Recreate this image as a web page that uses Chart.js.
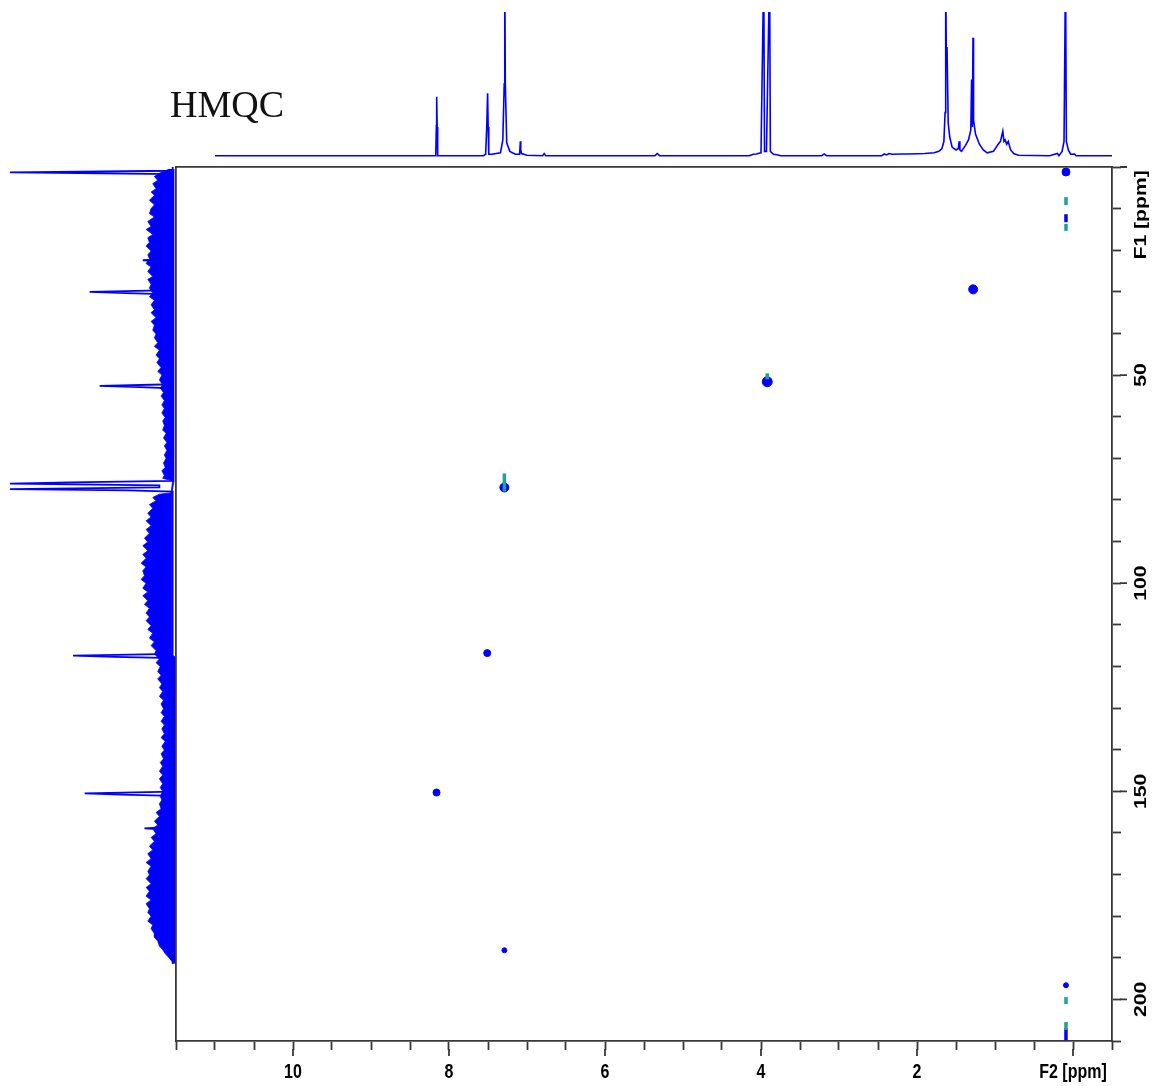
<!DOCTYPE html>
<html>
<head>
<meta charset="utf-8">
<script src="https://cdn.jsdelivr.net/npm/chart.js@4.4.1/dist/chart.umd.min.js"></script>
<style>
  html, body { margin: 0; padding: 0; background: #fff; }
  #wrap { position: relative; width: 1159px; height: 1086px; overflow: hidden; }
  canvas { position: absolute; }
</style>
</head>
<body>
<div id="wrap">
  <canvas id="proton" width="1112" height="148" style="left:0;top:12px"></canvas>
  <canvas id="carbon" width="176" height="874" style="left:0;top:167px"></canvas>
  <canvas id="hmqc" width="995" height="927" style="left:164px;top:159px"></canvas>
</div>
<script>
// HMQC: 1H (F2) projection on top, 13C (F1) projection on the left, cross peaks in the middle

// 1H trace [ppm, relative intensity] — peaks above 1 are cut by the top of the panel
const protonTrace = [
  [11.0, 0], [8.17, 0], [8.162, 0.21], [8.158, 0.41], [8.152, 0.2], [8.145, 0],
  [7.56, 0], [7.53, 0.01], [7.515, 0.22], [7.505, 0.435], [7.498, 0.2], [7.49, 0.01], [7.45, 0.01],
  [7.34, 0.02], [7.31, 0.11], [7.292, 0.5], [7.285, 1.3], [7.278, 0.5], [7.26, 0.09], [7.22, 0.03], [7.15, 0.01],
  [7.095, 0.01], [7.085, 0.1], [7.08, 0.04], [7.07, 0.015], [7.0, 0.003],
  [6.8, 0], [6.78, 0.015], [6.76, 0],
  [5.36, 0], [5.33, 0.015], [5.3, 0],
  [4.15, 0], [4.1, 0.01], [4.06, 0.012], [4.0, 0.02], [3.965, 1.3], [3.955, 0.03], [3.93, 0.03],
  [3.89, 1.3], [3.88, 0.03], [3.84, 0.01], [3.78, 0.005], [3.75, 0],
  [3.22, 0], [3.19, 0.012], [3.16, 0],
  [2.45, 0], [2.42, 0.012], [2.39, 0.005], [2.36, 0.015], [2.32, 0.01], [2.2, 0.012], [2.1, 0.012],
  [1.9, 0.015], [1.78, 0.02], [1.72, 0.03], [1.68, 0.05], [1.655, 0.1], [1.64, 0.3], [1.632, 1.3],
  [1.625, 0.75], [1.615, 0.75], [1.6, 0.23], [1.58, 0.13], [1.55, 0.06], [1.5, 0.04],
  [1.47, 0.05], [1.46, 0.1], [1.45, 0.04], [1.43, 0.03], [1.38, 0.07], [1.34, 0.11], [1.31, 0.18],
  [1.3, 0.53], [1.29, 0.2], [1.282, 0.82], [1.275, 0.25], [1.25, 0.15], [1.2, 0.08], [1.15, 0.04],
  [1.1, 0.02], [1.02, 0.03], [0.96, 0.08], [0.93, 0.1], [0.9, 0.17], [0.885, 0.1], [0.87, 0.11],
  [0.85, 0.08], [0.83, 0.1], [0.8, 0.04], [0.76, 0.015], [0.7, 0.003],
  [0.3, 0], [0.2, 0.015], [0.18, 0], [0.14, 0.03], [0.115, 0.1], [0.096, 1.3], [0.085, 0.1],
  [0.06, 0.04], [0.03, 0.01], [-0.02, 0.012], [-0.04, 0], [-0.5, 0]
];

// 13C trace [ppm, relative intensity]
const carbonTrace = [
  [0, 0.02], [0.9, 0.02], [1.3, 1.0], [1.7, 0.02],
  [22.0, 0.02], [22.4, 0.2], [22.8, 0.02],
  [29.6, 0.02], [30.0, 0.52], [30.3, 0.3], [30.6, 0.02],
  [52.2, 0.02], [52.6, 0.46], [52.9, 0.22], [53.2, 0.02],
  [75.4, 0.02], [75.8, 0.64], [76.1, 1.0], [76.5, 0.1], [77.0, 0.1], [77.4, 1.0], [77.7, 0.29], [78.0, 0.02],
  [117.0, 0.02], [117.4, 0.62], [117.7, 0.37], [118.0, 0.02],
  [150.1, 0.02], [150.5, 0.55], [150.8, 0.33], [151.1, 0.02],
  [158.5, 0.02], [158.9, 0.19], [159.3, 0.02],
  [191.5, 0.02]
];

// 13C noise band: outer edge [ppm, intensity]
const carbonNoiseOuter = [
  [0.5, 0.04], [1.5, 0.1], [2.3, 0.13], [3.2, 0.11], [4, 0.14], [5.2, 0.12], [6, 0.15], [6.8, 0.13],
  [8, 0.16], [9.1, 0.13], [10, 0.15], [11.2, 0.16], [12, 0.13], [13.1, 0.17], [14.3, 0.15], [15, 0.18],
  [16.2, 0.14], [17, 0.17], [18.1, 0.16], [19, 0.18], [20.2, 0.15], [21.1, 0.17], [22, 0.16], [23.2, 0.18],
  [24, 0.15], [25.1, 0.17], [26.3, 0.14], [27, 0.17], [28.2, 0.15], [29.1, 0.16], [30.3, 0.14], [31.2, 0.16],
  [32, 0.13], [33.1, 0.15], [34.3, 0.13], [35, 0.15], [36.2, 0.12], [37.1, 0.15], [38, 0.13], [39.2, 0.14],
  [40.1, 0.12], [41, 0.13], [42.2, 0.11], [43.1, 0.13], [44, 0.1], [45.2, 0.12], [46.1, 0.1], [47, 0.115],
  [48.2, 0.09], [49.1, 0.11], [50, 0.085], [51.2, 0.1], [52.3, 0.08], [53.1, 0.095], [54.2, 0.075], [55, 0.09],
  [56.1, 0.07], [57.2, 0.085], [58, 0.07], [59.1, 0.085], [60.2, 0.065], [61, 0.08], [62.1, 0.07], [63.2, 0.08],
  [64, 0.06], [65.1, 0.075], [66.2, 0.055], [67, 0.07], [68.1, 0.055], [69.2, 0.07], [70, 0.06], [71.1, 0.075],
  [72.2, 0.065], [73, 0.085], [74.1, 0.07], [74.8, 0.08], [75.2, 0.04], [75.5, 0.02],
  [78.3, 0.03], [78.6, 0.1], [79.4, 0.14], [80.2, 0.12], [81.1, 0.16], [82, 0.14], [83.2, 0.17], [84.1, 0.15],
  [85, 0.18], [86.2, 0.15], [87.1, 0.18], [88, 0.16], [89.2, 0.19], [90.1, 0.17], [91, 0.2], [92.2, 0.17],
  [93.1, 0.2], [94, 0.18], [95.2, 0.21], [96.1, 0.18], [97, 0.2], [98.2, 0.19], [99.1, 0.21], [100, 0.18],
  [101.2, 0.2], [102.1, 0.17], [103, 0.2], [104.2, 0.17], [105.1, 0.19], [106, 0.16], [107.2, 0.18], [108.1, 0.16],
  [109, 0.18], [110.2, 0.15], [111.1, 0.17], [112, 0.14], [113.2, 0.16], [114.1, 0.13], [115, 0.15], [116.2, 0.12],
  [117, 0.13], [118.2, 0.1], [119.1, 0.12], [120, 0.095], [121.2, 0.11], [122.1, 0.09], [123, 0.11], [124.2, 0.085],
  [125.1, 0.1], [126, 0.08], [127.2, 0.1], [128.1, 0.075], [129, 0.09], [130.2, 0.075], [131.1, 0.09], [132, 0.07],
  [133.2, 0.09], [134.1, 0.07], [135, 0.085], [136.2, 0.07], [137.1, 0.09], [138, 0.065], [139.2, 0.085], [140.1, 0.07],
  [141, 0.09], [142.2, 0.075], [143.1, 0.095], [144, 0.08], [145.2, 0.1], [146.1, 0.08], [147, 0.1], [148.2, 0.08],
  [149.1, 0.095], [150, 0.08], [151.2, 0.095], [152.1, 0.085], [153, 0.1], [154.2, 0.09], [155.1, 0.12], [156, 0.1],
  [157.2, 0.13], [158.1, 0.11], [159, 0.14], [160.2, 0.12], [161.1, 0.15], [162, 0.13], [163.2, 0.16], [164.1, 0.14],
  [165, 0.17], [166.2, 0.15], [167.1, 0.18], [168, 0.15], [169.2, 0.17], [170.1, 0.16], [171, 0.18], [172.2, 0.15],
  [173.1, 0.18], [174, 0.16], [175.2, 0.18], [176.1, 0.15], [177, 0.18], [178.2, 0.16], [179.1, 0.17], [180, 0.15],
  [181.2, 0.17], [182.1, 0.14], [183, 0.15], [184.2, 0.13], [185.1, 0.13], [186, 0.11], [187.2, 0.1], [188.1, 0.08],
  [189, 0.065], [190.1, 0.04], [191.3, 0.015]
];
// inner edge, walked back up
const carbonNoiseInner = [
  [191.3, 0], [118, 0], [117, 0.025], [78.3, 0.025], [75.5, 0.012], [0.5, 0.012]
];

// cross peaks [F2 ppm, F1 ppm]
const blueSpots = [[0.09, 1.2], [1.28, 29.4], [3.92, 51.6], [7.29, 77.0], [7.51, 116.8], [8.16, 150.3], [7.29, 188.2], [0.09, 196.6]];
const blueDashes = [[0.09, 12.3], [0.09, 208.4]];
const tealDashes = [[0.09, 8.2], [0.09, 14.5], [3.92, 50.3], [7.29, 75.8], [0.09, 200.3], [0.09, 206.4]];

// axis ticks and titles
const f2Labels = [10, 8, 6, 4, 2];
const f2Major = [10, 8, 6, 4, 2, 0];
const f2Title = "F2 [ppm]", f2TitleAt = 0;
const f1Labels = [50, 100, 150, 200];
const f1Major = [0, 50, 100, 150, 200];
const f1Title = "F1 [ppm]", f1TitleAt = 11.5;

const BLUE = "#0000ff", TEAL = "#1aa39a", AXIS = "#383838";
const SANS = '"Liberation Sans", Arial, sans-serif';
const LABEL_STRETCH = 1.32; // axis text in the figure is drawn tall and narrow
const spotRadius = [4, 4.5, 5, 4.5, 3.5, 3.5, 2.5, 2.5];
const blueDashLen = [4, 6];
const tealDashLen = [4, 3.5, 3, 9, 3.5, 4];

const pts = (arr) => arr.map(([x, y]) => ({ x, y }));
const ptsRot = (arr) => arr.map(([ppm, v]) => ({ x: v, y: ppm }));

// --- top: 1H projection ---
new Chart(document.getElementById("proton"), {
  type: "scatter",
  data: { datasets: [{ data: pts(protonTrace), showLine: true, borderColor: BLUE, borderWidth: 1.6, pointRadius: 0 }] },
  options: {
    responsive: false, animation: false, events: [],
    layout: { padding: { left: 176 }, autoPadding: false },
    plugins: { legend: { display: false }, tooltip: { enabled: false } },
    scales: {
      x: { type: "linear", display: false, min: -0.5, max: 11.5, reverse: true },
      y: { type: "linear", display: false, min: -0.03, max: 1.0 },
    },
  },
  plugins: [{
    id: "titleText",
    afterDraw(chart) {
      const ctx = chart.ctx;
      ctx.save();
      ctx.font = '38px "Liberation Serif", "Times New Roman", serif';
      ctx.fillStyle = "#111";
      ctx.textBaseline = "alphabetic";
      ctx.fillText("HMQC", 170, 104.7);
      ctx.restore();
    },
  }],
});

// --- left: 13C projection (rotated) ---
new Chart(document.getElementById("carbon"), {
  type: "scatter",
  data: {
    datasets: [
      { data: ptsRot(carbonNoiseOuter.concat(carbonNoiseInner)), showLine: true, fill: "shape",
        backgroundColor: BLUE, borderColor: BLUE, borderWidth: 0.8, pointRadius: 0 },
      { data: ptsRot(carbonTrace), showLine: true, borderColor: BLUE, borderWidth: 1.8, pointRadius: 0 },
    ],
  },
  options: {
    responsive: false, animation: false, events: [],
    layout: { padding: 0, autoPadding: false },
    plugins: { legend: { display: false }, tooltip: { enabled: false } },
    scales: {
      x: { type: "linear", display: false, min: 0, max: 1.06, reverse: true },
      y: { type: "linear", display: false, min: 0, max: 210, reverse: true },
    },
  },
});

// --- main 2D panel ---
const tickGrid = { drawOnChartArea: false, drawTicks: true, tickLength: 9, color: AXIS, tickWidth: 1.8 };
const border = { display: true, color: AXIS, width: 1.8 };

new Chart(document.getElementById("hmqc"), {
  type: "scatter",
  data: {
    datasets: [
      { data: pts(tealDashes), pointStyle: "line", rotation: 90, pointRadius: tealDashLen,
        borderColor: TEAL, borderWidth: 3.5 },
      { data: pts(blueDashes), pointStyle: "line", rotation: 90, pointRadius: blueDashLen,
        borderColor: BLUE, borderWidth: 3.5 },
      { data: pts(blueSpots), pointStyle: "circle", pointRadius: spotRadius,
        backgroundColor: BLUE, borderColor: BLUE, borderWidth: 1 },
    ],
  },
  options: {
    responsive: false, animation: false, events: [],
    layout: { padding: 0, autoPadding: false },
    plugins: { legend: { display: false }, tooltip: { enabled: false } },
    scales: {
      x: {
        type: "linear", position: "bottom", min: -0.5, max: 11.5, reverse: true,
        ticks: { stepSize: 0.5, display: false },
        grid: tickGrid, border,
        afterFit: (s) => { s.height = 45; },
      },
      y: {
        type: "linear", position: "right", min: 0, max: 210, reverse: true,
        ticks: { stepSize: 10, display: false },
        grid: tickGrid, border,
        afterFit: (s) => { s.width = 47; },
      },
      xTop: {
        type: "linear", position: "top", min: -0.5, max: 11.5, reverse: true,
        ticks: { display: false }, grid: { display: false }, border,
        afterFit: (s) => { s.height = 8; },
      },
      yLeft: {
        type: "linear", position: "left", min: 0, max: 210, reverse: true,
        ticks: { display: false }, grid: { display: false }, border,
        afterFit: (s) => { s.width = 12; },
      },
    },
  },
  plugins: [{
    id: "axisExtras",
    afterDraw(chart) {
      const { ctx, scales: { x, y } } = chart;
      ctx.save();
      ctx.strokeStyle = AXIS;
      ctx.lineWidth = 1.8;
      ctx.beginPath();
      f2Major.forEach((v) => { const px = x.getPixelForValue(v); ctx.moveTo(px, x.top + 8); ctx.lineTo(px, x.top + 15); });
      f1Major.forEach((v) => { const py = y.getPixelForValue(v); ctx.moveTo(y.left + 8, py); ctx.lineTo(y.left + 15, py); });
      ctx.stroke();

      ctx.fillStyle = "#000";
      ctx.font = "bold 16px " + SANS;
      ctx.textAlign = "center";
      ctx.textBaseline = "middle";
      // F2 labels: horizontal, stretched vertically
      const putF2 = (text, v) => {
        ctx.save();
        ctx.translate(x.getPixelForValue(v), x.top + 31);
        ctx.scale(1, LABEL_STRETCH);
        ctx.fillText(text, 0, 0);
        ctx.restore();
      };
      f2Labels.forEach((v) => putF2(String(v), v));
      putF2(f2Title, f2TitleAt);
      // F1 labels: read bottom-to-top, stretched along the text
      const putF1 = (text, v) => {
        ctx.save();
        ctx.translate(y.left + 30, y.getPixelForValue(v));
        ctx.rotate(-Math.PI / 2);
        ctx.scale(LABEL_STRETCH, 1);
        ctx.fillText(text, 0, 0);
        ctx.restore();
      };
      f1Labels.forEach((v) => putF1(String(v), v));
      putF1(f1Title, f1TitleAt);
      ctx.restore();
    },
  }],
});
</script>
</body>
</html>
